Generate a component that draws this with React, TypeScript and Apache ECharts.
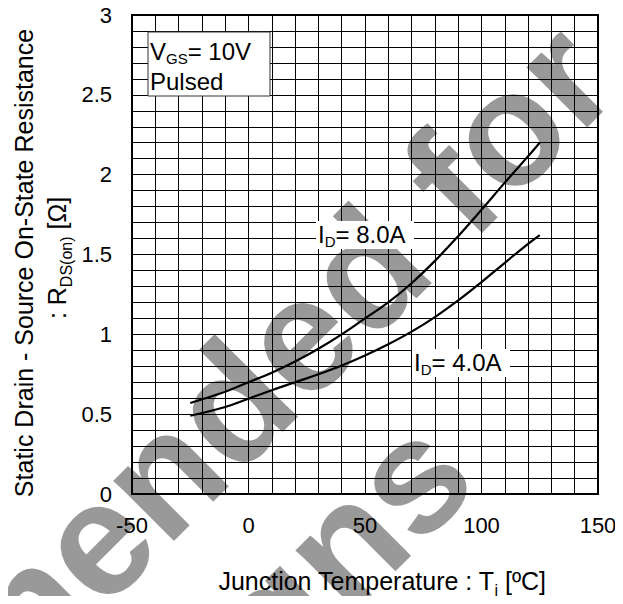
import React, { useEffect, useRef } from "react";
import * as echarts from "echarts";

const tempHigh = [-25, -10, 0, 10, 20, 30, 40, 50, 60, 70, 80, 90, 100, 110, 120, 125];
const resHigh = [0.57, 0.64, 0.7, 0.76, 0.83, 0.91, 1.0, 1.1, 1.2, 1.32, 1.46, 1.615, 1.78, 1.95, 2.115, 2.2];
const tempLow = [-25, -10, 0, 10, 20, 30, 40, 50, 60, 70, 80, 90, 100, 110, 120, 125];
const resLow = [0.49, 0.545, 0.597, 0.65, 0.7, 0.75, 0.805, 0.868, 0.938, 1.017, 1.108, 1.212, 1.327, 1.448, 1.567, 1.622];

const xTicks = [-50, 0, 50, 100, 150];
const yTicks = [0, 0.5, 1, 1.5, 2, 2.5, 3];

const FONT = "'Liberation Sans', Arial, sans-serif";

export default function App() {
  const ref = useRef<HTMLDivElement>(null);
  useEffect(() => {
    if (!ref.current) return;
    const chart = echarts.init(ref.current, null, { renderer: "svg" });
    const m = { fontSize: 24, fontFamily: FONT, fill: "#000", lineHeight: 30 };
    const m2 = { fontSize: 24, fontFamily: FONT, fill: "#000", lineHeight: 24 };
    const s = { fontSize: 15, fontFamily: FONT, fill: "#000", verticalAlign: "bottom" };
    const mName = { fontSize: 25, fontFamily: FONT, fill: "#000", lineHeight: 34 };
    const sName = { fontSize: 16, fontFamily: FONT, fill: "#000", verticalAlign: "bottom" };
    const grid = { left: 132, top: 15, right: 25, bottom: 110 };
    const wm = {
      align: "right",
      verticalAlign: "middle",
      fontSize: 162,
      fontWeight: "bold",
      fontFamily: FONT,
      fill: "rgba(0,0,0,0.4)",
    };
    chart.setOption({
      animation: false,
      grid: { ...grid, show: true, borderColor: "#000", borderWidth: 2, backgroundColor: "#fff" },
      xAxis: {
        type: "value",
        min: xTicks[0],
        max: xTicks[xTicks.length - 1],
        interval: 50,
        axisLine: { show: true, onZero: false, lineStyle: { color: "#000", width: 2 } },
        axisTick: { show: false },
        axisLabel: { color: "#000", fontSize: 22, fontFamily: FONT, margin: 20 },
        splitLine: { show: true, lineStyle: { color: "#000", width: 1 } },
        minorTick: { show: false, splitNumber: 5 },
        minorSplitLine: { show: true, lineStyle: { color: "#000", width: 1 } },
      },
      yAxis: {
        type: "value",
        min: yTicks[0],
        max: yTicks[yTicks.length - 1],
        interval: 0.5,
        axisLine: { show: true, onZero: false, lineStyle: { color: "#000", width: 2 } },
        axisTick: { show: false },
        axisLabel: { color: "#000", fontSize: 22, fontFamily: FONT, margin: 20 },
        splitLine: { show: true, lineStyle: { color: "#000", width: 1 } },
        minorTick: { show: false, splitNumber: 5 },
        minorSplitLine: { show: true, lineStyle: { color: "#000", width: 1 } },
      },
      series: [
        {
          name: "ID=8.0A",
          type: "line",
          data: tempHigh.map((t, i) => [t, resHigh[i]]),
          smooth: 0.4,
          showSymbol: false,
          lineStyle: { color: "#000", width: 2.2 },
          z: 3,
        },
        {
          name: "ID=4.0A",
          type: "line",
          data: tempLow.map((t, i) => [t, resLow[i]]),
          smooth: 0.4,
          showSymbol: false,
          lineStyle: { color: "#000", width: 2.2 },
          z: 3,
        },
      ],
      graphic: [
        // watermark
        {
          type: "text",
          x: 584,
          y: 51,
          rotation: Math.PI / 4,
          z: 50,
          silent: true,
          style: { text: "Not Recommended for", ...wm },
        },
        {
          type: "text",
          x: 442,
          y: 445,
          rotation: Math.PI / 4,
          z: 50,
          silent: true,
          style: { text: "New Designs", ...wm },
        },
        // condition box
        {
          type: "rect",
          z: 60,
          shape: { x: 148, y: 32, width: 122, height: 64 },
          style: { fill: "#fff", stroke: "#333", lineWidth: 1 },
        },
        {
          type: "text",
          x: 150,
          y: 51,
          z: 61,
          style: { text: "{m|V}{s|GS}{m|= 10V}", rich: { m, s }, verticalAlign: "middle", align: "left" },
        },
        {
          type: "text",
          x: 150,
          y: 81,
          z: 61,
          style: { text: "{m|Pulsed}", rich: { m: m2 }, verticalAlign: "middle", align: "left" },
        },
        // curve labels
        {
          type: "rect",
          z: 60,
          shape: { x: 316, y: 221, width: 98, height: 28 },
          style: { fill: "#fff" },
        },
        {
          type: "text",
          x: 318,
          y: 234,
          z: 61,
          style: { text: "{m|I}{s|D}{m|= 8.0A}", rich: { m, s }, verticalAlign: "middle", align: "left" },
        },
        {
          type: "rect",
          z: 60,
          shape: { x: 412, y: 349, width: 98, height: 28 },
          style: { fill: "#fff" },
        },
        {
          type: "text",
          x: 414,
          y: 362,
          z: 61,
          style: { text: "{m|I}{s|D}{m|= 4.0A}", rich: { m, s }, verticalAlign: "middle", align: "left" },
        },
        // axis names
        {
          type: "text",
          x: 382,
          y: 581,
          z: 61,
          style: {
            text: "{m|Junction Temperature : T}{s|j}{m| [ºC]}",
            rich: { m: mName, s: sName },
            align: "center",
            verticalAlign: "middle",
          },
        },
        {
          type: "text",
          x: 24,
          y: 263,
          rotation: Math.PI / 2,
          z: 61,
          style: {
            text: "{m|Static Drain - Source On-State Resistance}",
            rich: { m: mName },
            align: "center",
            verticalAlign: "middle",
          },
        },
        {
          type: "text",
          x: 57,
          y: 258,
          rotation: Math.PI / 2,
          z: 61,
          style: {
            text: "{m|: R}{s|DS(on)}{m| [Ω]}",
            rich: { m: mName, s: sName },
            align: "center",
            verticalAlign: "middle",
          },
        },
      ],
    });
    return () => chart.dispose();
  }, []);
  return <div ref={ref} style={{ width: 623, height: 604, margin: -8 }} />;
}
